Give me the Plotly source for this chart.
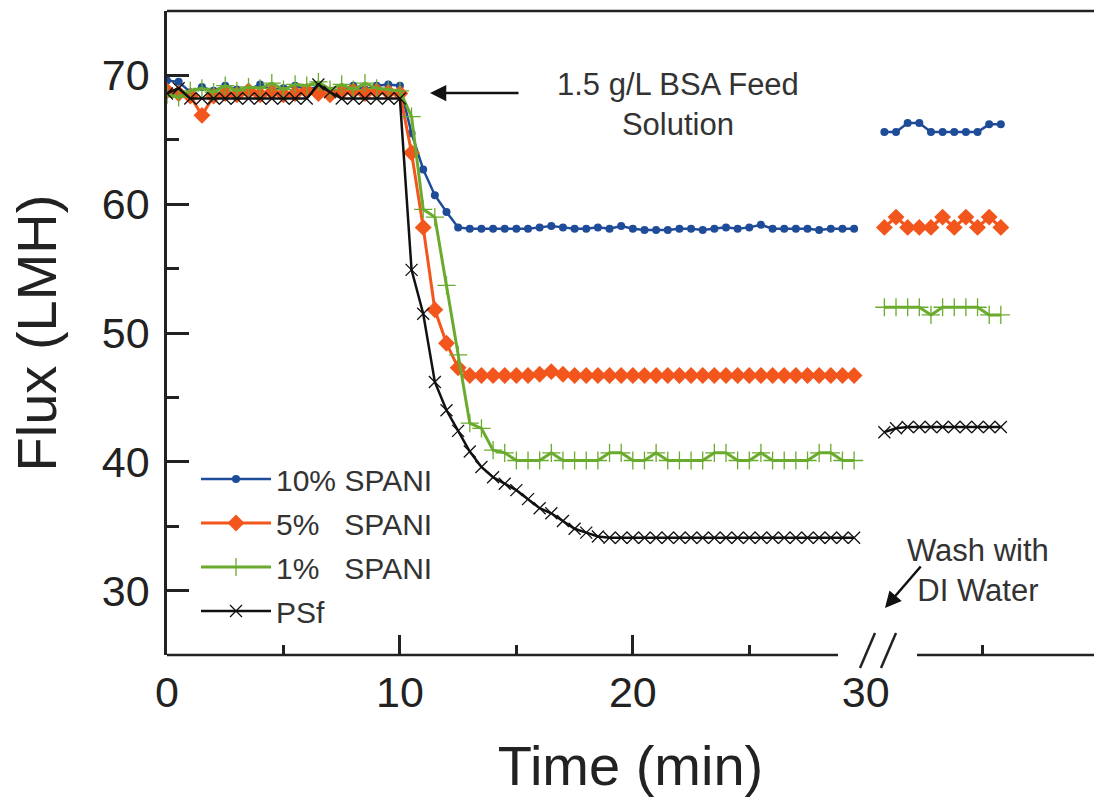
import plotly.graph_objects as go

# ---------------- data ----------------
t_main = [0, 0.5, 1, 1.5, 2, 2.5, 3, 3.5, 4, 4.5, 5, 5.5, 6, 6.5, 7, 7.5, 8, 8.5, 9, 9.5,
          10, 10.5, 11, 11.5, 12, 12.5, 13, 13.5, 14, 14.5, 15, 15.5, 16, 16.5, 17, 17.5,
          18, 18.5, 19, 19.5, 20, 20.5, 21, 21.5, 22, 22.5, 23, 23.5, 24, 24.5, 25, 25.5,
          26, 26.5, 27, 27.5, 28, 28.5, 29, 29.5]
t_wash = [30.8, 31.3, 31.8, 32.3, 32.8, 33.3, 33.8, 34.3, 34.8, 35.3, 35.8]

spani10_main = [69.6, 69.5, 68.7, 69.1, 68.8, 69.2, 68.9, 68.9, 69.3, 68.9, 69.0, 69.2, 68.9, 69.1,
                68.8, 68.9, 69.2, 68.9, 69.2, 69.3,
                69.2, 65.5, 62.7, 60.7, 59.4, 58.2,
                58.1, 58.1, 58.1, 58.1, 58.1, 58.1, 58.2, 58.3, 58.2, 58.1, 58.1, 58.2, 58.1,
                58.3, 58.1, 58.0, 58.0, 58.0, 58.1, 58.1, 58.0, 58.1, 58.2, 58.1, 58.2, 58.4,
                58.1, 58.1, 58.1, 58.1, 58.0, 58.1, 58.1, 58.1]
spani10_wash = [65.6, 65.6, 66.3, 66.3, 65.6, 65.6, 65.6, 65.6, 65.6, 66.2, 66.2]

spani5_main = [68.8, 68.6, 68.4, 66.9, 68.4, 68.6, 68.5, 68.8, 68.5, 68.7, 68.5, 68.6, 68.8, 68.6,
               68.5, 68.7, 68.8, 68.6, 68.8, 68.7,
               68.6, 64.0, 58.2, 51.8, 49.2, 47.3,
               46.7, 46.7, 46.7, 46.7, 46.7, 46.7, 46.8, 47.0, 46.8, 46.7, 46.7, 46.7, 46.7,
               46.7, 46.7, 46.7, 46.7, 46.7, 46.7, 46.7, 46.7, 46.7, 46.7, 46.7, 46.7, 46.7,
               46.7, 46.7, 46.7, 46.7, 46.7, 46.7, 46.7, 46.7]
spani5_wash = [58.2, 59.0, 58.2, 58.2, 58.2, 59.0, 58.2, 59.0, 58.2, 59.0, 58.2]

spani1_main = [68.5, 68.3, 68.8, 69.0, 68.7, 69.2, 68.8, 69.1, 69.0, 69.4, 68.9, 69.3, 69.2, 69.5,
               68.9, 69.3, 68.9, 69.4, 69.0, 68.9,
               68.8, 66.8, 59.6, 59.0, 53.7, 48.3,
               43.0, 42.6, 40.9, 40.7, 40.1, 40.1, 40.1, 40.7, 40.1, 40.1, 40.1, 40.1, 40.7,
               40.7, 40.1, 40.1, 40.7, 40.1, 40.1, 40.1, 40.1, 40.7, 40.7, 40.1, 40.1, 40.7,
               40.1, 40.1, 40.1, 40.1, 40.7, 40.7, 40.1, 40.1]
spani1_wash = [52.0, 52.0, 52.0, 52.0, 51.4, 52.0, 52.0, 52.0, 52.0, 51.4, 51.4]

psf_main = [68.6, 69.0, 68.2, 68.2, 68.2, 68.2, 68.2, 68.2, 68.2, 68.2, 68.2, 68.2, 68.2, 69.3,
            68.7, 68.2, 68.2, 68.2, 68.2, 68.2,
            68.2, 54.9, 51.5, 46.2, 44.0, 42.4, 40.8, 39.6, 38.8, 38.3, 37.8, 37.1, 36.4,
            36.0, 35.4, 34.8, 34.5, 34.2, 34.1,
            34.1, 34.1, 34.1, 34.1, 34.1, 34.1, 34.1, 34.1, 34.1, 34.1, 34.1, 34.1, 34.1,
            34.1, 34.1, 34.1, 34.1, 34.1, 34.1, 34.1, 34.1]
psf_wash = [42.3, 42.6, 42.7, 42.7, 42.7, 42.7, 42.7, 42.7, 42.7, 42.7, 42.7]

series_names = ["10% SPANI", "5%\u00a0\u00a0\u00a0SPANI", "1%\u00a0\u00a0\u00a0SPANI", "PSf"]
x_tick_vals = [0, 10, 20, 30]
x_tick_text = ["0", "10", "20", "30"]
y_tick_vals = [30, 40, 50, 60, 70]

# ---------------- styling ----------------
FONT = "Liberation Sans, Arial, sans-serif"
AX = "#222222"
W, H = 1094, 802
L, R, T, B = 167, 0, 11, 147
PW, PH = W - L - R, H - T - B


def px(x):
    return (x - L) / PW


def py(y):
    return (H - B - y) / PH


styles = [
    dict(color="#1f4c98", symbol="circle", size=8, lw=2.5, mlw=0),
    dict(color="#f2561d", symbol="diamond", size=13, lw=3, mlw=0),
    dict(color="#6aab2e", symbol="cross-thin", size=13, lw=3, mlw=1.3),
    dict(color="#111111", symbol="x-thin", size=12, lw=2.5, mlw=1.3),
]
mains = [spani10_main, spani5_main, spani1_main, psf_main]
washes = [spani10_wash, spani5_wash, spani1_wash, psf_wash]

fig = go.Figure()
for name, st, ym, yw in zip(series_names, styles, mains, washes):
    fig.add_trace(go.Scatter(
        x=t_main + [None] + t_wash,
        y=ym + [None] + yw,
        mode="lines+markers",
        name=name,
        legendgroup=name,
        connectgaps=False,
        line=dict(color=st["color"], width=st["lw"]),
        marker=dict(color=st["color"], symbol=st["symbol"], size=st["size"],
                    line=dict(color=st["color"], width=st["mlw"])),
    ))

# dummy trace to host the tick-mark overlay axis
fig.add_trace(go.Scatter(x=[None], y=[None], xaxis="x2", yaxis="y",
                         showlegend=False, hoverinfo="skip"))

fig.update_layout(
    width=W, height=H,
    margin=dict(l=L, r=R, t=T, b=B),
    paper_bgcolor="white", plot_bgcolor="white",
    font=dict(family=FONT, color=AX),
    showlegend=True,
    legend=dict(x=px(196), y=py(453), xanchor="left", yanchor="top",
                font=dict(size=30, color="#333333"), bgcolor="rgba(0,0,0,0)",
                tracegroupgap=2, itemwidth=70),
    xaxis=dict(range=[0, 39.8], showgrid=False, zeroline=False, showline=False,
               tickmode="array", tickvals=x_tick_vals, ticktext=x_tick_text,
               ticks="", tickfont=dict(size=43, color=AX), ticklabelstandoff=8,
               automargin=False,
               title=dict(text="Time (min)", font=dict(size=56, color=AX), standoff=30)),
    xaxis2=dict(range=[0, 39.8], overlaying="x", anchor="y", side="bottom",
                showgrid=False, zeroline=False, showline=False, showticklabels=False,
                tickmode="array", tickvals=[10, 20], ticks="inside", ticklen=20,
                tickwidth=2.5, tickcolor=AX,
                minor=dict(tickmode="array", tickvals=[5, 15, 25, 35], ticks="inside",
                           ticklen=10, tickwidth=2.5, tickcolor=AX, showgrid=False)),
    yaxis=dict(range=[25, 75], showgrid=False, zeroline=False, showline=True,
               linecolor=AX, linewidth=2.5, automargin=False,
               tickmode="array", tickvals=y_tick_vals, ticks="inside", ticklen=22,
               tickwidth=2.5, tickcolor=AX, tickfont=dict(size=43, color=AX),
               ticklabelstandoff=6,
               minor=dict(tickmode="array", tickvals=[35, 45, 55, 65], ticks="inside",
                          ticklen=12, tickwidth=2.5, tickcolor=AX, showgrid=False),
               title=dict(text="Flux (LMH)", font=dict(size=56, color=AX), standoff=28)),
)

# frame pieces: top border, broken x axis line, break marks
shape_line = dict(color=AX, width=2.5)
fig.add_shape(type="line", xref="paper", yref="paper", x0=0, x1=1, y0=1, y1=1, line=shape_line)
fig.add_shape(type="line", xref="paper", yref="paper", x0=0, x1=px(838), y0=0, y1=0, line=shape_line)
fig.add_shape(type="line", xref="paper", yref="paper", x0=px(917), x1=1, y0=0, y1=0, line=shape_line)
fig.add_shape(type="line", xref="paper", yref="paper", x0=px(860), x1=px(875), y0=py(668), y1=py(633),
              line=shape_line)
fig.add_shape(type="line", xref="paper", yref="paper", x0=px(881), x1=px(896), y0=py(668), y1=py(633),
              line=shape_line)

# annotations
fig.add_annotation(xref="paper", yref="paper", x=px(678), y=py(104),
                   text="1.5 g/L BSA Feed<br>Solution", showarrow=False,
                   font=dict(size=31, color="#333333"), xanchor="center", yanchor="middle")
fig.add_annotation(xref="paper", yref="paper", x=px(430), y=py(93), text="",
                   showarrow=True, ax=90, ay=0, arrowhead=2, arrowsize=1.3,
                   arrowwidth=2.5, arrowcolor="#111111")
fig.add_annotation(xref="paper", yref="paper", x=px(978), y=py(570),
                   text="Wash with<br>DI Water", showarrow=False,
                   font=dict(size=31, color="#333333"), xanchor="center", yanchor="middle")
fig.add_annotation(xref="paper", yref="paper", x=px(885), y=py(608), text="",
                   showarrow=True, ax=37, ay=-43, arrowhead=2, arrowsize=1.3,
                   arrowwidth=2.5, arrowcolor="#111111")

fig.write_html("out.html", config={"displayModeBar": False},
               post_script="document.body.style.margin='0';document.body.style.overflow='hidden';")
